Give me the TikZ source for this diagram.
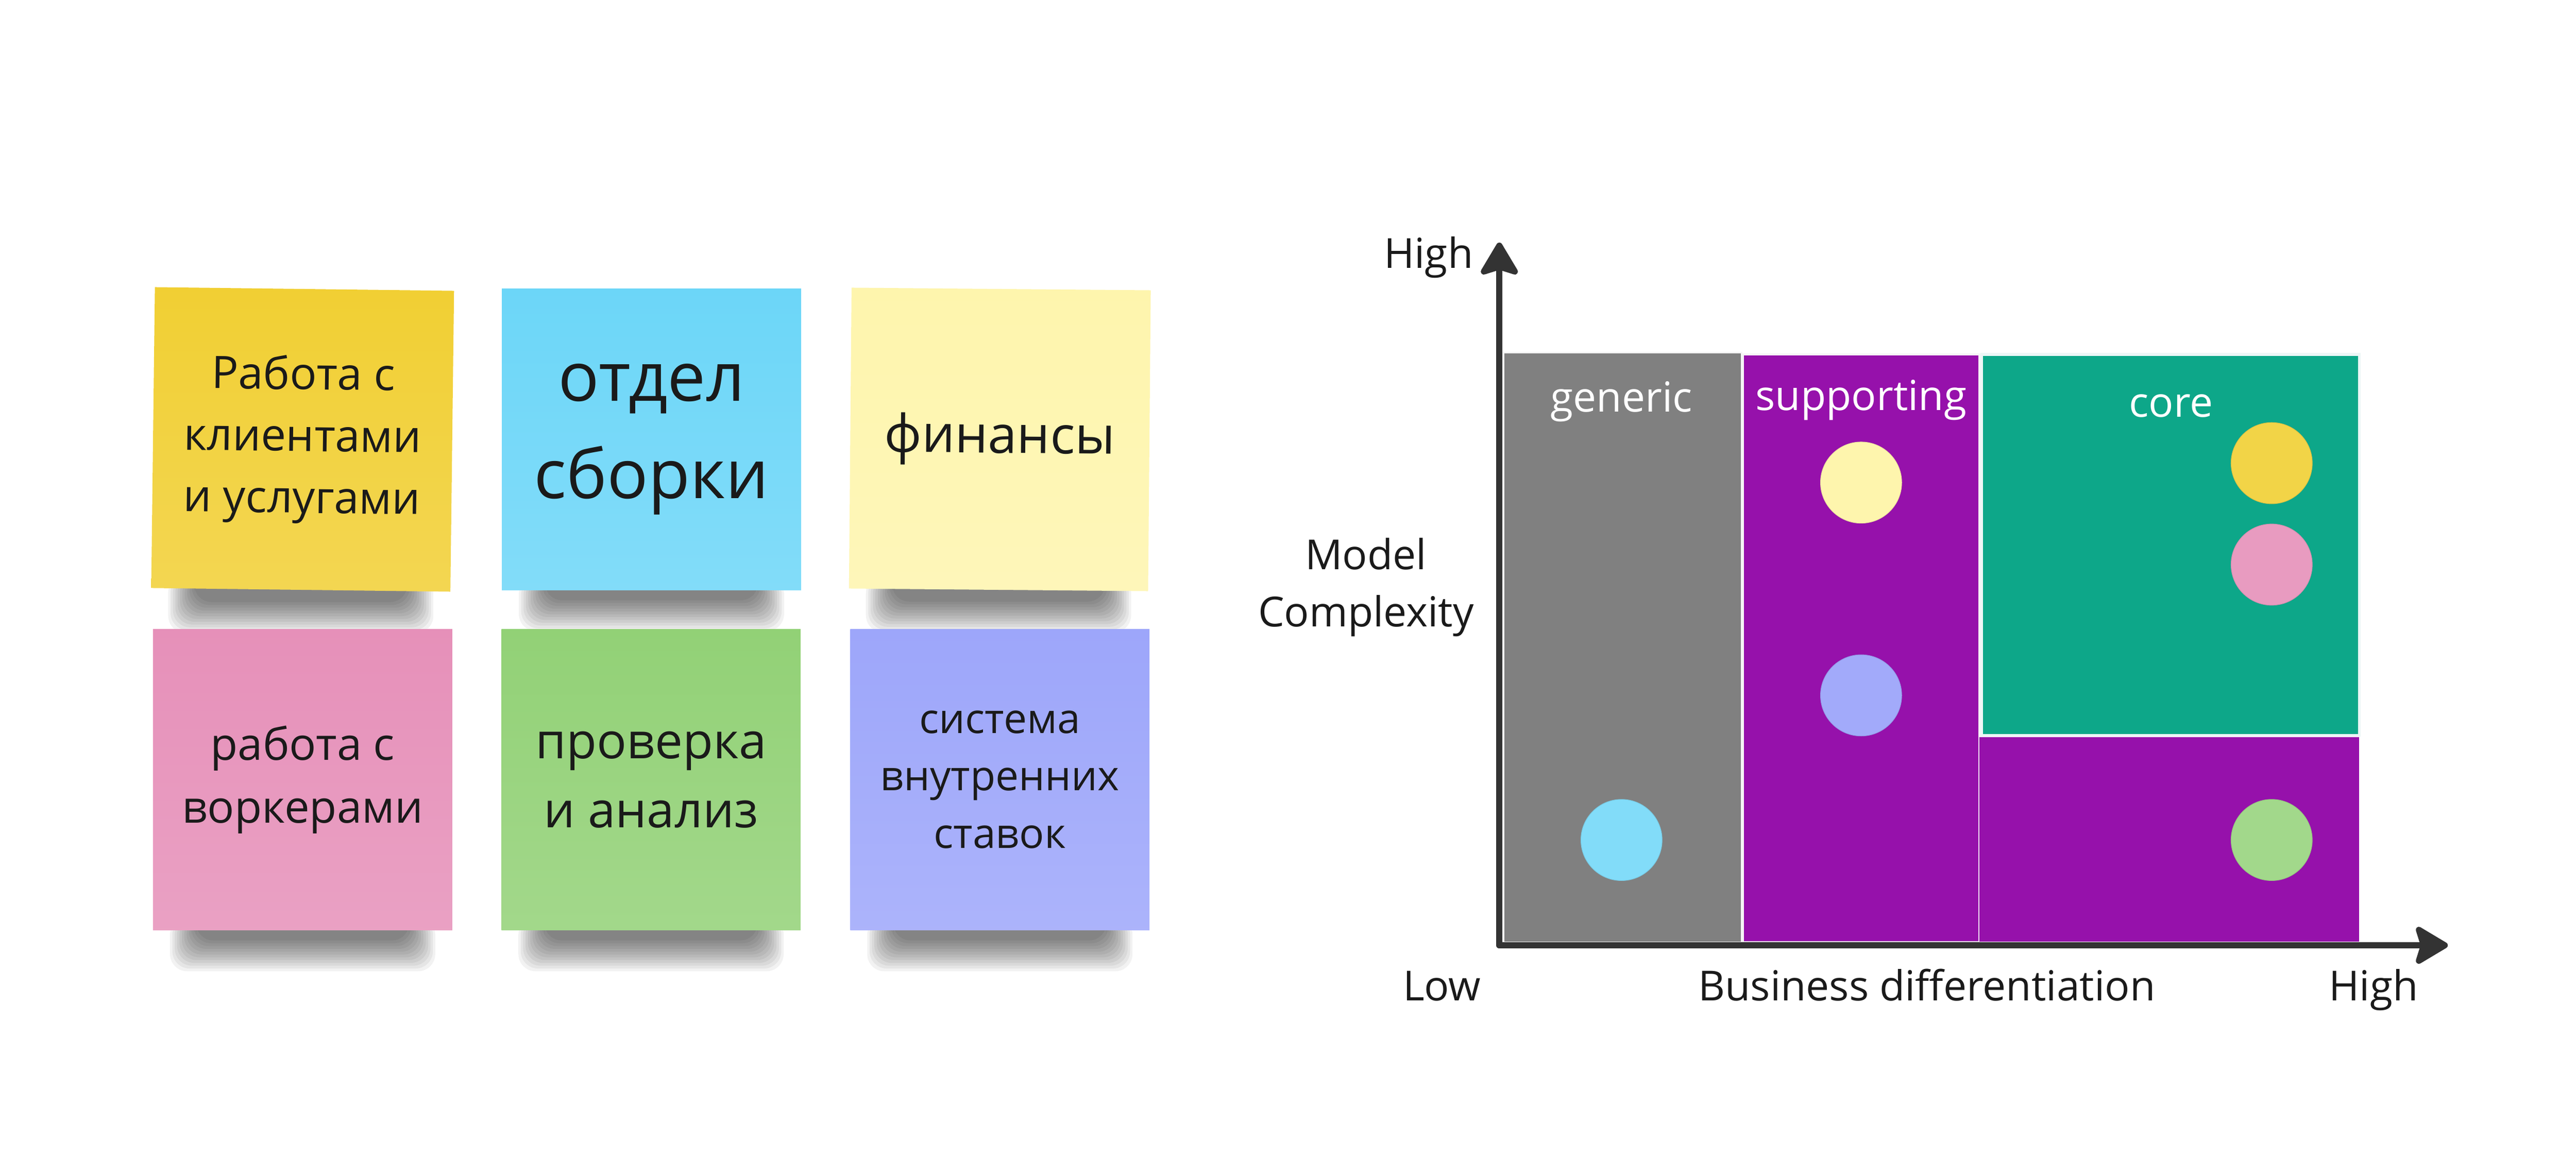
\documentclass[tikz,border=0pt]{standalone}
\usepackage{fontspec}
\setmainfont{Open Sans}
\usetikzlibrary{arrows.meta,backgrounds}

\definecolor{stickyellow}{HTML}{F1CF33}
\definecolor{stickcyan}{HTML}{6CD6F8}
\definecolor{sticklight}{HTML}{FEF5AD}
\definecolor{stickpink}{HTML}{E690B9}
\definecolor{stickgreen}{HTML}{92D176}
\definecolor{stickviolet}{HTML}{9DA6FA}
\definecolor{axisgray}{HTML}{333333}
\definecolor{genericgray}{HTML}{808080}
\definecolor{supportpurple}{HTML}{9611AB}
\definecolor{coreteal}{HTML}{0DA789}
\definecolor{inktext}{HTML}{1A1A1A}

\tikzset{
  sticky/.style={minimum width=6.93cm, minimum height=6.97cm, inner sep=0pt,
    align=center, text=inktext, top color=#1, bottom color=#1!85!white},
  dot/.style={circle, minimum size=1.88cm, inner sep=0pt, fill=#1, draw=#1!92!black, line width=0.4pt},
  tag/.style={font=\fontsize{27.3}{37.8}\selectfont, text=inktext, anchor=base, inner sep=0pt},
}

% soft shadow under a sticky note
\newcommand{\stickshadow}[1]{%
  \foreach \k [evaluate=\k as \ins using 4+0.55*\k, evaluate=\k as \dep using 9.5-0.65*\k] in {0,...,11}
    \fill[black, opacity=0.05, rounded corners=4mm]
      ([xshift=\ins mm, yshift=3mm]#1.south west) rectangle ([xshift=-\ins mm, yshift=-\dep mm]#1.south east);
}

\begin{document}
\begin{tikzpicture}[
  axis/.style={line width=4pt, draw=axisgray, line cap=round,
    -{Stealth[length=8.5mm, width=10mm, inset=1.5mm, round]}},
  region/.style={draw=white!92!gray, line width=1.2pt}]
  \useasboundingbox (0,0) rectangle (59.67,26.8);

  % sticky notes
  \node[sticky=stickyellow, rotate=-0.7, font=\fontsize{29.5}{40.7}\selectfont] (clients) at (7.01,16.62) {Работа с\\клиентами\\и услугами};
  \node[sticky=stickcyan, font=\fontsize{45}{64}\selectfont] (assembly) at (15.09,16.62) {отдел\\сборки};
  \node[sticky=sticklight, rotate=-0.5, font=\fontsize{34.4}{46}\selectfont] (finance) at (23.16,16.62) {финансы};
  \node[sticky=stickpink, font=\fontsize{29.5}{41.5}\selectfont] (workers) at (7.01,8.74) {работа с\\воркерами};
  \node[sticky=stickgreen, font=\fontsize{32.7}{45.5}\selectfont] (review) at (15.08,8.74) {проверка\\и анализ};
  \node[sticky=stickviolet, font=\fontsize{27.3}{37.8}\selectfont] (bets) at (23.16,8.74) {система\\внутренних\\ставок};

  \begin{scope}[on background layer]
    \fill[white] (0,0) rectangle (59.67,26.8);
    \foreach \n in {clients,assembly,finance,workers,review,bets} \stickshadow{\n};
  \end{scope}

  % matrix regions
  \fill[genericgray, region] (34.82,4.96) rectangle (40.34,18.63);
  \fill[supportpurple, region] (40.37,4.98) rectangle (45.85,18.59);
  \fill[supportpurple] (45.85,4.98) rectangle (54.65,9.72);
  \fill[coreteal, draw=white!93!teal, line width=1.8pt] (45.90,9.76) rectangle (54.65,18.59);

  \node[tag, text=white] (generic) at (37.56,17.26) {generic};
  \node[tag, text=white] (supporting) at (43.11,17.29) {supporting};
  \node[tag, text=white] (core) at (50.29,17.14) {core};

  % domains
  \node[dot=sticklight] (d1) at (43.11,15.62) {};
  \node[dot=stickviolet!95!white] (d2) at (43.11,10.69) {};
  \node[dot=stickcyan!85!white] (d3) at (37.56,7.34) {};
  \node[dot=stickyellow!90!white] (d4) at (52.62,16.07) {};
  \node[dot=stickpink!90!white] (d5) at (52.62,13.72) {};
  \node[dot=stickgreen!85!white] (d6) at (52.62,7.34) {};

  % axes
  \coordinate (origin) at (34.73,4.90);
  \coordinate (ytip) at (34.73,21.18);
  \coordinate (xtip) at (56.70,4.90);
  \draw[axis] (origin) -- (ytip);
  \draw[axis] (origin) -- (xtip);

  \node[tag] (yhigh) at (33.09,20.59) {High};
  \node[tag, anchor=center, align=center] (ylabel) at (31.64,13.19) {Model\\Complexity};
  \node[tag] (xlow) at (33.40,3.62) {Low};
  \node[tag] (xlabel) at (44.63,3.62) {Business differentiation};
  \node[tag] (xhigh) at (54.98,3.62) {High};
\end{tikzpicture}
\end{document}
